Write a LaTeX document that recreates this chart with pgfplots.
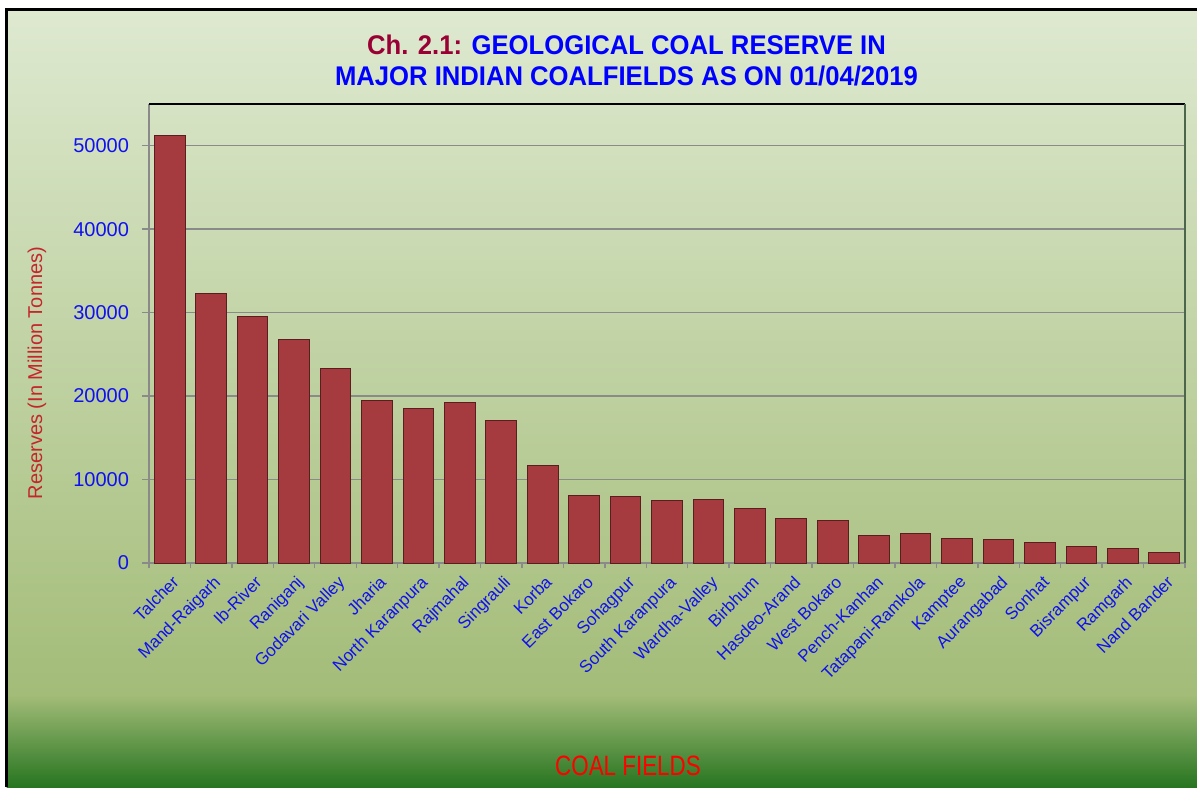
\documentclass[border=0pt]{standalone}
\usepackage{fontspec}
\setmainfont{Liberation Sans}
\usepackage{pgfplots}
\pgfplotsset{compat=1.18}

\definecolor{bgtop}{HTML}{DEE9D0}
\definecolor{bgmid}{HTML}{A3BC78}
\definecolor{bgbot}{HTML}{277520}
\definecolor{barfill}{HTML}{A53B3E}
\definecolor{barline}{HTML}{5A1E20}
\definecolor{tickblue}{HTML}{1010F0}
\definecolor{labred}{HTML}{C4262B}
\definecolor{chred}{HTML}{990033}
\definecolor{gridgray}{HTML}{8A8A8A}

\begin{document}
\begin{tikzpicture}
% page = 1197x787 px at 0.5pt per px
\useasboundingbox (0,0) rectangle (598.5pt,393.5pt);
\fill[white] (0,0) rectangle (598.5pt,393.5pt);
\shade[top color=bgtop, bottom color=bgmid] (3.25pt,45.9pt) rectangle (598.5pt,388.75pt);
\shade[top color=bgmid, bottom color=bgbot] (3.25pt,0pt) rectangle (598.5pt,46pt);
\draw[line width=1.1pt] (3.25pt,0pt) -- (3.25pt,388.75pt) -- (598.5pt,388.75pt);

% title
\node[anchor=base, xscale=0.95, font=\fontsize{13.5}{16}\selectfont\bfseries]
  at (313.25pt,366pt) {\textcolor{chred}{Ch. 2.1:} \textcolor{blue}{GEOLOGICAL COAL RESERVE IN}};
\node[anchor=base, xscale=0.95, font=\fontsize{13.5}{16}\selectfont\bfseries, text=blue]
  at (313.25pt,350.5pt) {MAJOR INDIAN COALFIELDS AS ON 01/04/2019};

\node[rotate=90, font=\fontsize{10}{12}\selectfont, text=labred] at (18.5pt,207pt)
  {Reserves (In Million Tonnes)};
\node[anchor=base, xscale=0.8, font=\fontsize{14}{16}\selectfont, text=red] at (314pt,6pt)
  {COAL FIELDS};

\begin{axis}[
    at={(74.5pt,112pt)}, anchor=south west,
    scale only axis, width=518pt, height=229.5pt,
    xmin=-0.5, xmax=24.5, ymin=0, ymax=55000,
    ytick={0,10000,...,50000},
    xtick={0,...,24},
    xticklabels={Talcher, Mand-Raigarh, Ib-River, Raniganj, Godavari Valley, Jharia,
        North Karanpura, Rajmahal, Singrauli, Korba, East Bokaro, Sohagpur,
        South Karanpura, Wardha-Valley, Birbhum, Hasdeo-Arand, West Bokaro,
        Pench-Kanhan, Tatapani-Ramkola, Kamptee, Aurangabad, Sonhat, Bisrampur,
        Ramgarh, Nand Bander},
    minor xtick={-0.5,0.5,...,24.5},
    major x tick style={draw=none},
    tick align=outside,
    major tick length=3.5pt, minor tick length=2.7pt,
    tick style={gridgray, line width=0.7pt},
    ymajorgrids, grid style={gridgray, line width=0.7pt},
    axis x line*=bottom, axis y line*=left,
    axis line style={gridgray, line width=0.8pt},
    scaled y ticks=false,
    /pgf/number format/1000 sep={},
    /pgf/number format/assume math mode=true,
    yticklabel style={font=\fontsize{10}{12}\selectfont, text=tickblue, xshift=-3pt},
    xticklabel style={rotate=45, anchor=north east, font=\fontsize{8.5}{10}\selectfont,
        text=tickblue, inner sep=1pt, yshift=-1pt},
    clip=false,
]
\addplot[ybar, bar width=0.74, draw=barline, line width=0.5pt, fill=barfill]
    coordinates {
    (0,51200) (1,32300) (2,29500) (3,26750) (4,23350) (5,19450) (6,18500)
    (7,19200) (8,17050) (9,11700) (10,8100) (11,8000) (12,7500) (13,7550)
    (14,6500) (15,5350) (16,5050) (17,3300) (18,3500) (19,2900) (20,2850)
    (21,2450) (22,2000) (23,1700) (24,1200)
};
\draw[black, line width=0.9pt] (rel axis cs:0,1) -- (rel axis cs:1,1);
\draw[black!75!green!40!gray, line width=1.3pt] (rel axis cs:1,1) -- (rel axis cs:1,0);
\end{axis}
\end{tikzpicture}
\end{document}
